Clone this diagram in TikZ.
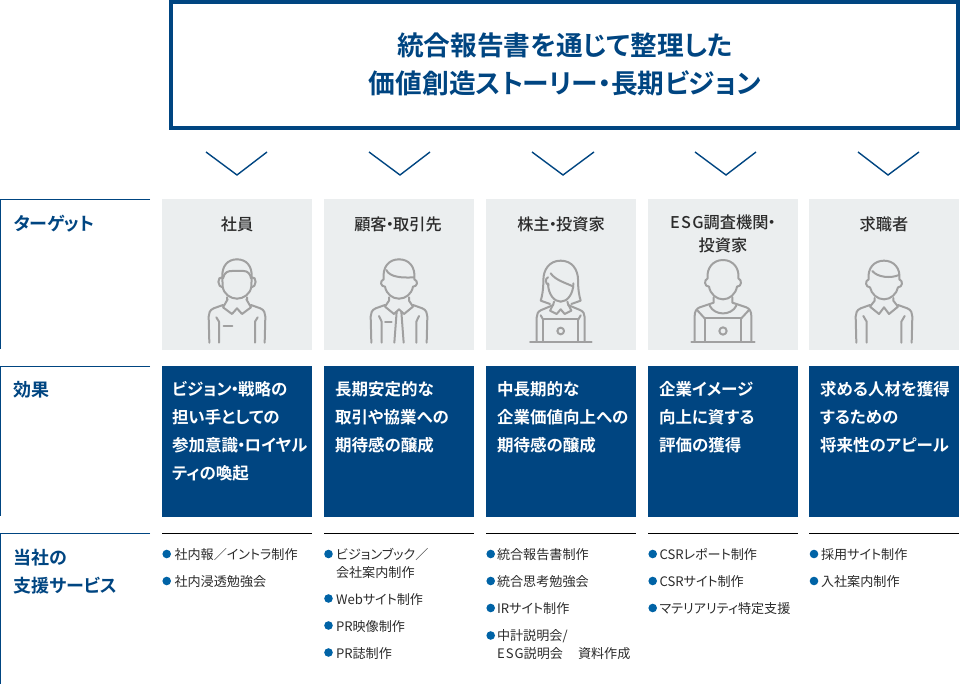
\documentclass[tikz,border=0pt]{standalone}
\usepackage{fontspec}
\setmainfont{Noto Sans CJK JP}[RawFeature=+palt,BoldFont={Noto Sans CJK JP Bold}]
\newfontfamily\medfont{Noto Sans CJK JP Medium}[RawFeature=+palt]
\definecolor{navy}{HTML}{004581}
\definecolor{panel}{HTML}{EBEEEF}
\definecolor{ink}{HTML}{2B2B2B}
\definecolor{dot}{HTML}{0063A6}
\definecolor{icon}{HTML}{A0A0A0}
\tikzset{
 txt/.style={inner sep=0pt,outer sep=0pt,anchor=north west,align=left,execute at begin node={\rule{0pt}{1.2em}}},
 titletxt/.style={txt,anchor=north,align=center,text=navy,font=\fontsize{26.7}{38}\selectfont\bfseries},
 headtxt/.style={txt,text=navy,font=\fontsize{18}{28}\selectfont\bfseries},
 targettxt/.style={txt,anchor=north,align=center,text=ink,font=\fontsize{16.2}{23}\selectfont\medfont},
 effecttxt/.style={txt,text=white,font=\fontsize{16.5}{28}\selectfont\bfseries},
 listtxt/.style={txt,text=ink,font=\fontsize{13.1}{18}\selectfont},
 bullet/.style={circle,fill=dot,inner sep=0pt,minimum size=8.6pt},
 panelbox/.style={fill=panel,draw=none,inner sep=0pt,anchor=north west,minimum width=150pt,minimum height=151pt},
 effectbox/.style={fill=navy,draw=none,inner sep=0pt,anchor=north west,minimum width=150pt,minimum height=151pt},
 chev/.style={draw=navy,line width=1.4pt},
 ruleh/.style={draw=navy,line width=1.4pt},
 rulec/.style={draw=black,line width=1.3pt},
 ic/.style={draw=icon,line width=2pt,line join=round,line cap=round},
 pics/empA/.style={code={
  \foreach \s in {1,-1}{\begin{scope}[xscale=\s]
   \draw[ic] (0,208) .. controls (28,208) and (46,228) .. (44,262) -- (43,290) .. controls (40,312) and (20,326) .. (0,326);
   \draw[ic] (44,262) .. controls (60,258) and (60,292) .. (42,293);
   \draw[ic] (30,322) -- (30,330) (28,328) -- (42,352) -- (15,372) -- (0,355);
   \draw[ic] (42,345) -- (70,355) .. controls (82,360) and (85,370) .. (85,380) -- (83,458);
   \draw[ic] (62,382) -- (54,395) -- (54,458);
  \end{scope}}
  \draw[ic] (-42,265) .. controls (-38,245) and (-25,243) .. (-15,243) -- (20,243) .. controls (32,243) and (40,252) .. (42,265);
  \draw[ic] (-40,408) -- (-14,408);
 }},
 pics/custB/.style={code={
  \foreach \s in {1,-1}{\begin{scope}[xscale=\s]
   \draw[ic] (0,208) .. controls (30,208) and (50,230) .. (46,268) .. controls (58,272) and (56,290) .. (42,290) .. controls (38,312) and (20,326) .. (0,326);
   \draw[ic] (30,322) -- (30,332) -- (42,350) -- (15,372) -- (0,358);
   \draw[ic] (42,345) -- (70,355) .. controls (82,360) and (85,370) .. (85,380) -- (83,458);
   \draw[ic] (60,378) -- (52,395) -- (52,458);
   \draw[ic] (7,365) -- (14,458);
  \end{scope}}
  \draw[ic] (-38,240) .. controls (-28,262) and (10,264) .. (44,262);
  \draw[ic] (-42,395) -- (-22,395);
 }},
 pics/womC/.style={code={
  \foreach \s in {1,-1}{\begin{scope}[xscale=\s]
   \draw[ic] (0,212) .. controls (35,212) and (52,240) .. (52,270) .. controls (52,300) and (56,320) .. (60,332) -- (32,342);
   \draw[ic] (38,280) .. controls (38,312) and (20,335) .. (0,335);
   \draw[ic] (20,335) -- (22,342) -- (32,362) -- (12,372) -- (0,358);
   \draw[ic] (22,345) -- (58,360) .. controls (68,364) and (72,372) .. (72,382) -- (72,456);
   \draw[ic] (60,376) -- (52,390);
  \end{scope}}
  \draw[ic] (-30,250) .. controls (-15,272) and (20,280) .. (38,290);
  \draw[ic] (-38,262) .. controls (-48,266) and (-46,282) .. (-36,285);
  \draw[ic] (-52,456) -- (-52,388) -- (52,388) -- (52,456);
  \draw[ic] (0,423) circle (10);
  \draw[ic] (-92,456) -- (93,456);
 }},
 pics/anaD/.style={code={
  \foreach \s in {1,-1}{\begin{scope}[xscale=\s]
   \draw[ic] (0,210) .. controls (30,210) and (50,235) .. (46,265) .. controls (58,270) and (56,290) .. (42,290) .. controls (38,312) and (20,328) .. (0,328);
   \draw[ic] (28,322) -- (28,338) -- (70,352) .. controls (80,356) and (85,365) .. (85,378) -- (85,456);
   \draw[ic] (78,360) -- (55,385);
  \end{scope}}
  \draw[ic] (-40,347) .. controls (-25,378) and (25,378) .. (40,347);
  \draw[ic] (-55,456) -- (-55,385) -- (55,385) -- (55,456);
  \draw[ic] (0,423) circle (11);
  \draw[ic] (-95,456) -- (95,456);
 }},
 pics/jobE/.style={code={
  \foreach \s in {1,-1}{\begin{scope}[xscale=\s]
   \draw[ic] (0,212) .. controls (30,212) and (50,235) .. (46,268) .. controls (58,272) and (56,292) .. (42,292) .. controls (38,312) and (20,328) .. (0,328);
   \draw[ic] (28,324) -- (28,332) -- (42,350) -- (15,372) -- (0,352);
   \draw[ic] (42,345) -- (70,355) .. controls (82,360) and (85,370) .. (85,380) -- (83,458);
   \draw[ic] (62,378) -- (52,395) -- (52,458);
  \end{scope}}
  \draw[ic] (-35,243) .. controls (-20,262) and (20,266) .. (45,255);
 }},
}
\newcommand{\dt}{\hspace{-.05em}・\hspace{-.05em}}
\newcommand{\esg}{{\addfontfeature{LetterSpace=8}ESG}}
\begin{document}
\begin{tikzpicture}[x=1pt,y=-1pt]
\useasboundingbox (0,0) rectangle (961,684);
% title
\node[draw=navy,line width=4pt,inner sep=0pt,outer sep=0pt,minimum width=787pt,minimum height=126pt,anchor=north west] (titlebox) at (171,2) {};
\node[titletxt] (title) at (565,33) {統合報告書を通じて整理した\\価値創造ストーリー・長期ビジョン};
% chevrons
\draw[chev] (206,152) -- (237,175) -- (267,152);
\draw[chev] (369,152) -- (400,175) -- (430,152);
\draw[chev] (532,152) -- (563,175) -- (594,152);
\draw[chev] (695,152) -- (726,175) -- (756,152);
\draw[chev] (858,152) -- (888,175) -- (919,152);
% row headers
\draw[ruleh] (150,199.5) -- (.7,199.5) -- (.7,349);
\draw[ruleh] (150,366.5) -- (.7,366.5) -- (.7,516);
\draw[ruleh] (150,533.5) -- (.7,533.5) -- (.7,684);
\node[headtxt] (h1) at (13.5,209.2) {ターゲット};
\node[headtxt] (h2) at (13.5,375.2) {効果};
\node[headtxt] (h3) at (13.5,549) {当社の\\支援サービス};
% panels
\node[panelbox] (p1) at (162,199) {};
\node[panelbox] (p2) at (324,199) {};
\node[panelbox] (p3) at (486,199) {};
\node[panelbox] (p4) at (648,199) {};
\node[panelbox] (p5) at (809,199) {};
\node[targettxt] (t1) at (237,210.8) {社員};
\node[targettxt] (t2) at (398,210.8) {顧客\dt 取引先};
\node[targettxt] (t3) at (561,210.8) {株主\dt 投資家};
\node[targettxt] (t4) at (723,214.8) {\esg 調査機関\dt\\投資家};
\node[targettxt] (t5) at (884,210.8) {求職者};
% icons
\pic[shift={(237,190)},scale=1/3] {empA};
\pic[shift={(399,190)},scale=1/3] {custB};
\pic[shift={(560.7,190)},scale=1/3] {womC};
\pic[shift={(723,190)},scale=1/3] {anaD};
\pic[shift={(884,190)},scale=1/3] {jobE};
% effects
\node[effectbox] (e1) at (162,366) {};
\node[effectbox] (e2) at (324,366) {};
\node[effectbox] (e3) at (486,366) {};
\node[effectbox] (e4) at (648,366) {};
\node[effectbox] (e5) at (809,366) {};
\node[effecttxt] (et1) at (172,381.5) {ビジョン\dt 戦略の\\担い手としての\\参加意識\dt ロイヤル\\ティの喚起};
\node[effecttxt] (et2) at (335,381.5) {長期安定的な\\取引や協業への\\期待感の醸成};
\node[effecttxt] (et3) at (497,381.5) {中長期的な\\企業価値向上への\\期待感の醸成};
\node[effecttxt] (et4) at (659,381.5) {企業イメージ\\向上に資する\\評価の獲得};
\node[effecttxt] (et5) at (820,381.5) {求める人材を獲得\\するための\\将来性のアピール};
% service rules
\draw[rulec] (162,533.5) -- (312,533.5);
\draw[rulec] (324,533.5) -- (474,533.5);
\draw[rulec] (486,533.5) -- (636,533.5);
\draw[rulec] (648,533.5) -- (798,533.5);
\draw[rulec] (809,533.5) -- (959,533.5);
% lists
\node[bullet] (b11) at (166.7,554) {}; \node[listtxt] (l11) at (174.5,543.7) {社内報／イントラ制作};
\node[bullet] (b12) at (166.7,581) {}; \node[listtxt] (l12) at (174.5,570.7) {社内浸透勉強会};
\node[bullet] (b21) at (328.5,554) {}; \node[listtxt] (l21) at (336,548.7) {ビジョンブック／\\会社案内制作};
\node[bullet] (b22) at (328.5,598.5) {}; \node[listtxt] (l22) at (336,588.7) {Webサイト制作};
\node[bullet] (b23) at (328.5,625.5) {}; \node[listtxt] (l23) at (336,615.7) {PR映像制作};
\node[bullet] (b24) at (328.5,652.5) {}; \node[listtxt] (l24) at (336,642.7) {PR誌制作};
\node[bullet] (b31) at (490.7,554) {}; \node[listtxt] (l31) at (497,543.7) {統合報告書制作};
\node[bullet] (b32) at (490.7,581) {}; \node[listtxt] (l32) at (497,570.7) {統合思考勉強会};
\node[bullet] (b33) at (490.7,608) {}; \node[listtxt] (l33) at (497,598) {IRサイト制作};
\node[bullet] (b34) at (490.7,635.5) {}; \node[listtxt] (l34) at (497,629.7) {中計説明会/\\\esg 説明会　\hspace{2pt}資料作成};
\node[bullet] (b41) at (652.7,554) {}; \node[listtxt] (l41) at (659.5,543.7) {CSRレポート制作};
\node[bullet] (b42) at (652.7,581) {}; \node[listtxt] (l42) at (659.5,570.7) {CSRサイト制作};
\node[bullet] (b43) at (652.7,608) {}; \node[listtxt] (l43) at (659.5,597.7) {マテリアリティ特定支援};
\node[bullet] (b51) at (814,554) {}; \node[listtxt] (l51) at (821,543.7) {採用サイト制作};
\node[bullet] (b52) at (814,581) {}; \node[listtxt] (l52) at (821,570.7) {入社案内制作};
\end{tikzpicture}
\end{document}
